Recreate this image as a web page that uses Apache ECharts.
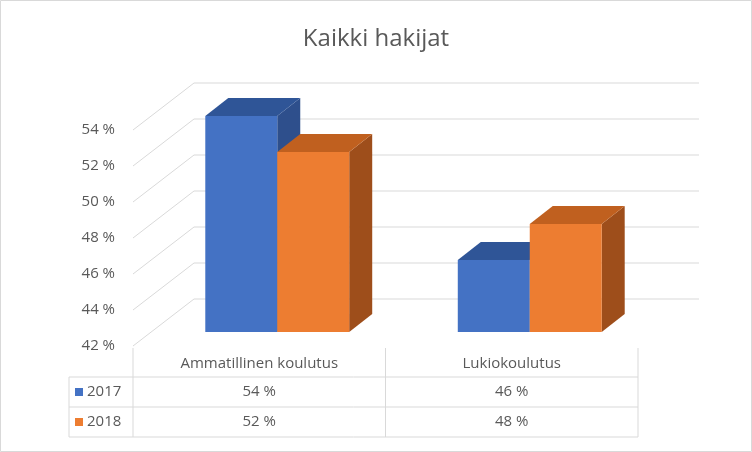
<!DOCTYPE html>
<html><head><meta charset="utf-8">
<script src="https://cdn.jsdelivr.net/npm/echarts@6/dist/echarts.min.js"></script>
<style>html,body{margin:0;padding:0;background:#fff}#c{width:752px;height:452px}</style>
</head><body><div id="c"></div>
<script>
const categories = ['Ammatillinen koulutus', 'Lukiokoulutus'];
const seriesNames = ['2017', '2018'];
const values2017 = [54, 46];
const values2018 = [52, 48];
const yTicks = [42, 44, 46, 48, 50, 52, 54];

const chart = echarts.init(document.getElementById('c'));
const FONT = '"Open Sans", "Noto Sans", sans-serif';
const GRID = {left: 133, right: 114, top: 130, bottom: 106};
const BACK = [61, -47];          // depth of the back wall
const FRONT_OFF = [18, -14];     // bars' front face offset
const DEPTH = [23, -18];         // bars' depth
const faces = [
  {front: '#4472C4', top: '#2F5597', side: '#2E4F8C'},
  {front: '#ED7D31', top: '#C0601F', side: '#9E4E1B'}
];

function wallItem(params, api) {
  const v = api.value(0);
  const cs = params.coordSys;
  const y = api.coord([0, v])[1];
  const x0 = cs.x, x1 = cs.x + cs.width;
  return {
    type: 'polyline', silent: true,
    shape: {points: [[x0, y], [x0 + BACK[0], y + BACK[1]], [x1 + BACK[0], y + BACK[1]]]},
    style: {stroke: '#d9d9d9', lineWidth: 1, fill: null}
  };
}

function barItem(si) {
  return function (params, api) {
    const ci = api.value(0), v = api.value(1);
    const band = api.size([1, 0])[0];
    const cx = api.coord([ci, v])[0] + FRONT_OFF[0];
    const w = band * 0.285;
    const x0 = si === 0 ? cx - w : cx, x1 = x0 + w;
    const yt = api.coord([ci, v])[1] + FRONT_OFF[1];
    const yb = api.coord([ci, 42])[1] + FRONT_OFF[1];
    const dx = DEPTH[0], dy = DEPTH[1];
    const f = faces[si];
    return {type: 'group', children: [
      {type: 'polygon', shape: {points: [[x1, yt], [x1 + dx, yt + dy], [x1 + dx, yb + dy], [x1, yb]]}, style: {fill: f.side}},
      {type: 'polygon', shape: {points: [[x0, yt], [x0 + dx, yt + dy], [x1 + dx, yt + dy], [x1, yt]]}, style: {fill: f.top}},
      {type: 'rect', shape: {x: x0, y: yt, width: w, height: yb - yt}, style: {fill: f.front}}
    ]};
  };
}

// data table graphics built from arrays
const W = 752, H = 452;
const tL = 69, tC = GRID.left, tR = W - GRID.right, tM = (tC + tR) / 2;
const rowY = [348, 377, 407, 437];
const lineStyle = {stroke: '#d9d9d9', lineWidth: 1};
const g = [];
[rowY[1], rowY[2], rowY[3]].forEach(y => g.push({type: 'line', shape: {x1: tL, y1: y, x2: tR, y2: y}, style: lineStyle}));
[tC, tM, tR].forEach(x => g.push({type: 'line', shape: {x1: x, y1: rowY[0], x2: x, y2: rowY[3]}, style: lineStyle}));
g.push({type: 'line', shape: {x1: tL, y1: rowY[1], x2: tL, y2: rowY[3]}, style: lineStyle});
const colCenters = [(tC + tM) / 2, (tM + tR) / 2];
const txt = (x, y, s, align) => ({type: 'text', x, y, style: {text: s, font: '15px ' + FONT, fill: '#595959', align: align || 'center', verticalAlign: 'middle'}});
categories.forEach((c, i) => g.push(txt(colCenters[i], (rowY[0] + rowY[1]) / 2 + 1, c)));
[values2017, values2018].forEach((vals, si) => {
  const yc = (rowY[si + 1] + rowY[si + 2]) / 2;
  g.push({type: 'rect', shape: {x: 75, y: yc - 4, width: 8, height: 8}, style: {fill: faces[si].front}});
  g.push(txt(87, yc, seriesNames[si], 'left'));
  vals.forEach((v, ci) => g.push(txt(colCenters[ci], yc, v + ' %')));
});
g.push({type: 'rect', shape: {x: 0.5, y: 0.5, width: W - 1, height: H - 1}, style: {fill: null, stroke: '#d9d9d9', lineWidth: 1}});

chart.setOption({
  animation: false,
  title: {text: 'Kaikki hakijat', left: 'center', top: 22, textStyle: {fontFamily: FONT, fontSize: 24, fontWeight: 'normal', color: '#595959'}},
  grid: GRID,
  xAxis: {type: 'category', data: categories, show: false},
  yAxis: {type: 'value', min: 42, max: 54, interval: 2,
    axisLine: {show: false}, axisTick: {show: false}, splitLine: {show: false},
    axisLabel: {formatter: '{value} %', margin: 18, fontFamily: FONT, fontSize: 15, color: '#595959'}},
  series: [
    {type: 'custom', renderItem: wallItem, data: yTicks.map(v => [v]), encode: {y: 0}, silent: true, z: 1},
    {type: 'custom', name: seriesNames[0], renderItem: barItem(0), data: values2017.map((v, i) => [i, v]), encode: {x: 0, y: 1}, z: 2},
    {type: 'custom', name: seriesNames[1], renderItem: barItem(1), data: values2018.map((v, i) => [i, v]), encode: {x: 0, y: 1}, z: 3}
  ],
  graphic: g
});
</script></body></html>
